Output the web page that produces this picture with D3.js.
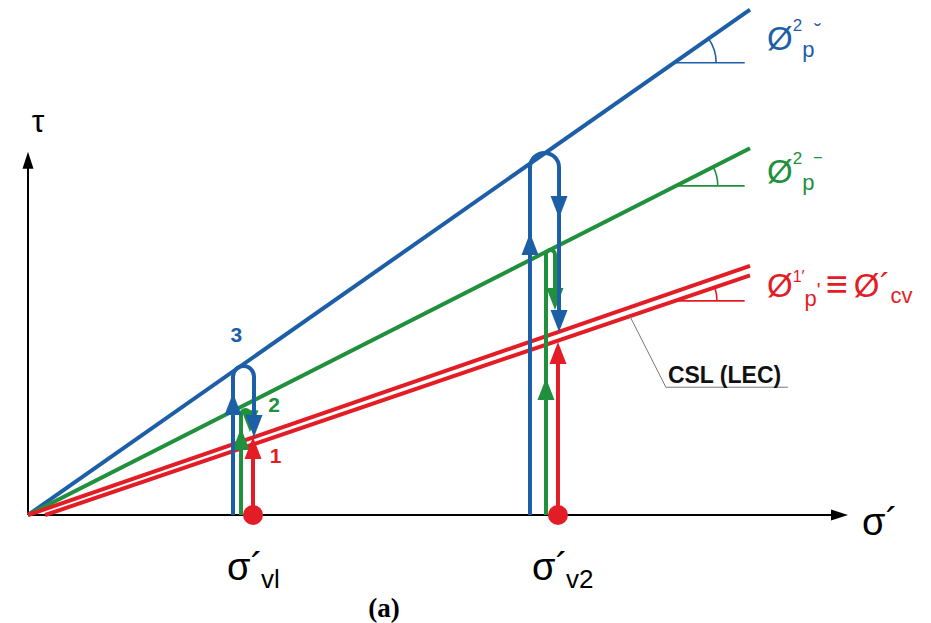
<!DOCTYPE html>
<html>
<head>
<meta charset="utf-8">
<script src="https://cdn.jsdelivr.net/npm/d3@7"></script>
<style>
  html, body { margin: 0; padding: 0; background: #fff; }
  svg text { font-family: "Liberation Sans", Arial, sans-serif; }
</style>
</head>
<body>
<div id="chart"></div>
<script>
// σ' positions of the two vertical stresses
const sigmaV = [27.44, 64.63];
const sigmaLabels = ["vl", "v2"];

// strength envelopes: tan(φ) and where each starts on the σ' axis
const envNames = ["3", "2", "1a", "1b"];
const envTan = [0.700, 0.508, 0.345, 0.340];
const envStart = [0, 0, 0, 2.1];
const envEnd = 88.05;
// point on each envelope where the angle is marked
const angleAt = [78.8, 79.0, 0, 78.9];

// looping stress paths: [series, σ' up, σ' down, τ top, τ end]
const loops = [
  ["2", 25.98, 27.07, 12.80, 10.1],
  ["3", 25.00, 27.56, 18.17, 9.51],
  ["2", 63.17, 64.27, 32.32, 25.00],
  ["3", 61.22, 64.76, 44.15, 22.32]
];
// straight red paths: [σ', τ end]
const redPaths = [[27.44, 9.51], [64.63, 21.10]];

// arrowheads: [series, σ', τ at tip, direction (1 up, -1 down)]
const arrows = [
  ["2", 25.98, 10.61, 1], ["2", 27.07, 10.1, -1],
  ["3", 25.00, 14.88, 1], ["3", 27.56, 9.51, -1],
  ["2", 63.17, 16.71, 1], ["2", 64.27, 25.00, -1],
  ["3", 61.22, 34.39, 1], ["3", 64.76, 36.22, -1], ["3", 64.76, 22.32, -1],
  ["1", 27.44, 9.51, 1], ["1", 64.63, 21.10, 1]
];

// path numbers: [series, σ', τ]
const pathNumbers = [["3", 25.4, 21.1], ["2", 30.0, 12.6], ["1", 30.2, 6.4]];

const color = { "3": "#1d5fa7", "2": "#20903d", "1": "#e31d25", "1a": "#e31d25", "1b": "#e31d25" };

const W = 931, H = 623;
const svg = d3.select("#chart").append("svg")
  .attr("width", W).attr("height", H);

const x = d3.scaleLinear().domain([0, 100]).range([28, 848]);
const y = d3.scaleLinear().domain([0, 100]).range([515, 515 - 820]);

const tri = (px, py, dir, hw, len) =>
  `M${px},${py}L${px - hw},${py + dir * len}L${px + hw},${py + dir * len}Z`;

// axes
svg.append("line")
  .attr("x1", x(0)).attr("y1", y(0)).attr("x2", x(100) - 10).attr("y2", y(0))
  .attr("stroke", "#000").attr("stroke-width", 2);
svg.append("path")
  .attr("d", `M${x(100)},${y(0)}L${x(100) - 17},${y(0) - 5.5}L${x(100) - 17},${y(0) + 5.5}Z`)
  .attr("fill", "#000");
const tauTop = 44.3;
svg.append("line")
  .attr("x1", x(0)).attr("y1", y(0)).attr("x2", x(0)).attr("y2", y(tauTop) + 10)
  .attr("stroke", "#000").attr("stroke-width", 2);
svg.append("path").attr("d", tri(x(0), y(tauTop), 1, 5.5, 17)).attr("fill", "#000");

svg.append("text").attr("x", x(0) + 10).attr("y", y(tauTop) - 20)
  .attr("text-anchor", "middle").attr("font-size", 32).text("τ");
svg.append("text").attr("x", x(100) + 14).attr("y", y(0) + 20).attr("font-size", 38).text("σ´");

// envelopes
const line = d3.line().x(d => x(d[0])).y(d => y(d[1]));
envNames.forEach((n, i) => {
  svg.append("path")
    .attr("d", line([[envStart[i], 0], [envEnd, envTan[i] * (envEnd - envStart[i])]]))
    .attr("stroke", color[n]).attr("stroke-width", 4).attr("fill", "none");
});

// angle marks
[0, 1, 3].forEach(i => {
  const s = angleAt[i], t = envTan[i] * (s - envStart[i]);
  const px = x(s), py = y(t), r = 42;
  const a = Math.atan(envTan[i]);
  svg.append("line").attr("x1", px).attr("y1", py).attr("x2", x(87.4)).attr("y2", py)
    .attr("stroke", color[envNames[i]]).attr("stroke-width", 1.6);
  svg.append("path")
    .attr("d", `M${px + r},${py}A${r},${r} 0 0 0 ${px + r * Math.cos(a)},${py - r * Math.sin(a)}`)
    .attr("stroke", color[envNames[i]]).attr("stroke-width", 1.6).attr("fill", "none");
});

// CSL leader
const lead = 73.4;
const lx = x(lead), ly = y(envTan[3] * (lead - envStart[3]));
svg.append("path")
  .attr("d", `M${lx},${ly}L${lx + 36},${ly + 71}L${lx + 158},${ly + 71}`)
  .attr("stroke", "#777").attr("stroke-width", 1).attr("fill", "none");
svg.append("text").attr("x", lx + 38).attr("y", ly + 67)
  .attr("font-size", 23).attr("font-weight", "bold").attr("fill", "#111").text("CSL (LEC)");

// envelope labels: one text each, parts as [dx, dy, size, glyph]
function phiLabel(n, tau, dy0, parts) {
  const t = svg.append("text").attr("fill", color[n])
    .attr("x", x(envEnd) + 17).attr("y", y(tau) + dy0);
  parts.forEach(p => {
    t.append("tspan").attr("dx", p[0]).attr("dy", p[1]).attr("font-size", p[2]).text(p[3]);
  });
}
phiLabel("3", envTan[0] * envEnd, 40, [[0, 0, 33, "Ø"], [0, -19, 17, "2"], [0, 26, 22, "p"], [0, -19, 20, "˘"]]);
phiLabel("2", envTan[1] * envEnd, 35, [[0, 0, 33, "Ø"], [0, -19, 17, "2"], [0, 26, 22, "p"], [0, -17, 20, "‾"]]);
phiLabel("1", envTan[2] * envEnd, 31, [[0, 0, 33, "Ø"], [0, -15, 16, "1′"], [0, 24, 22, "p"], [0, -9, 20, "'"],
  [5, 0, 38, "≡"], [6, 0, 33, "Ø´"], [0, 6, 22, "cv"]]);

// stress paths
function loopPath(d) {
  const p = d3.path();
  const xl = x(d[1]), xr = x(d[2]), r = (xr - xl) / 2, yt = y(d[3]);
  p.moveTo(xl, y(0));
  p.lineTo(xl, yt + r);
  p.arc(xl + r, yt + r, r, Math.PI, 0, false);
  p.lineTo(xr, y(d[4]) - 10);
  return p.toString();
}
["2", "3"].forEach(ser => {
  loops.filter(d => d[0] === ser).forEach(d => {
    svg.append("path").attr("d", loopPath(d))
      .attr("stroke", color[ser]).attr("stroke-width", 4).attr("fill", "none");
  });
  arrows.filter(a => a[0] === ser).forEach(a => {
    svg.append("path").attr("d", tri(x(a[1]), y(a[2]), a[3], 8.5, 22)).attr("fill", color[ser]);
  });
});
redPaths.forEach(d => {
  svg.append("line").attr("x1", x(d[0])).attr("y1", y(0)).attr("x2", x(d[0])).attr("y2", y(d[1]) + 10)
    .attr("stroke", color["1"]).attr("stroke-width", 4);
});
arrows.filter(a => a[0] === "1").forEach(a => {
  svg.append("path").attr("d", tri(x(a[1]), y(a[2]), a[3], 8.5, 22)).attr("fill", color["1"]);
});
svg.selectAll("circle.dot").data(sigmaV).enter().append("circle")
  .attr("cx", d => x(d)).attr("cy", y(0)).attr("r", 10).attr("fill", color["1"]);

pathNumbers.forEach(d => {
  svg.append("text").attr("x", x(d[1])).attr("y", y(d[2]))
    .attr("text-anchor", "middle").attr("font-size", 21).attr("font-weight", "bold")
    .attr("fill", color[d[0]]).text(d[0]);
});

// σ' tick labels
sigmaV.forEach((s, i) => {
  const t = svg.append("text").attr("x", x(s) - 26).attr("y", y(0) + 65).attr("font-size", 38);
  t.append("tspan").text("σ´");
  t.append("tspan").attr("dx", -2).attr("dy", 8).attr("font-size", 26).text(sigmaLabels[i]);
});

svg.append("text").attr("x", 384).attr("y", 617).attr("text-anchor", "middle")
  .style("font-family", "'Liberation Serif', serif")
  .attr("font-size", 27).attr("font-weight", "bold").text("(a)");
</script>
</body>
</html>
